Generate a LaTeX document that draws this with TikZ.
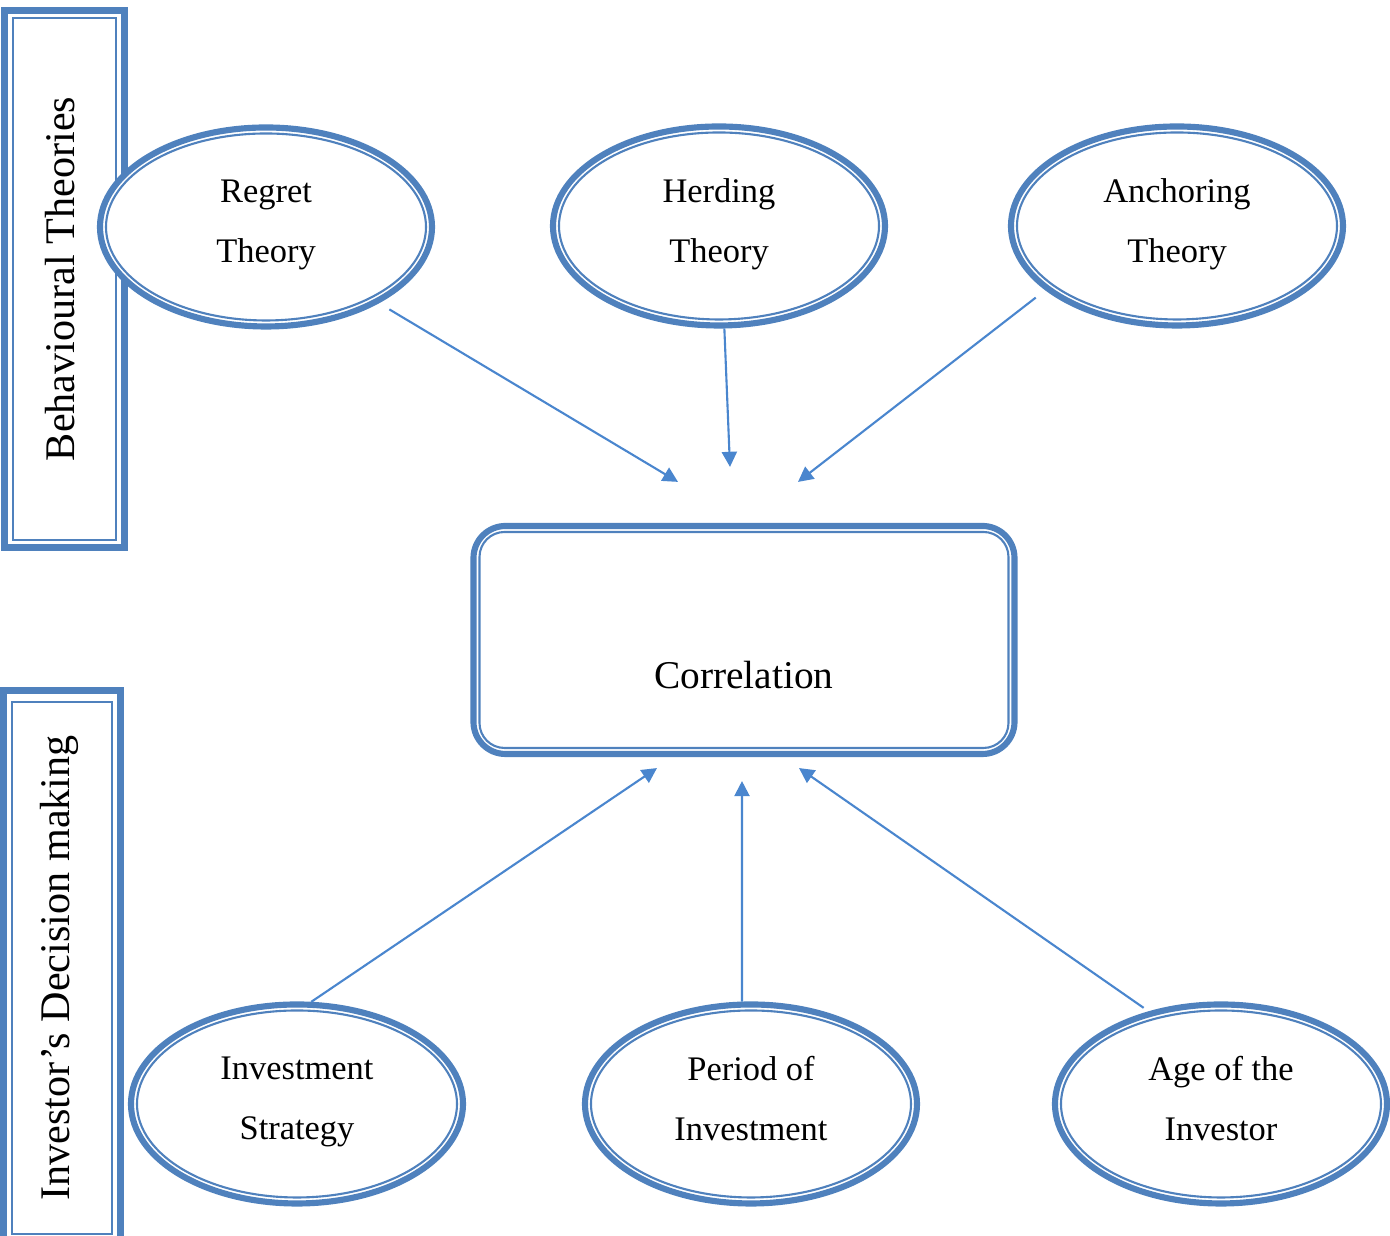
\documentclass[tikz,border=0pt]{standalone}
\usepackage{fontspec}
\setmainfont{Liberation Serif}
\usetikzlibrary{arrows.meta, positioning, shapes.geometric}
\definecolor{frameblue}{RGB}{79,129,189}
\definecolor{arrowblue}{RGB}{74,134,206}

\begin{document}
\begin{tikzpicture}[>={Triangle[length=4.3pt, width=4.3pt]},
    theory/.style={ellipse, draw=frameblue, line width=1.75pt, fill=white, minimum width=3.32cm, minimum height=1.99cm, inner sep=0pt, align=center, font=\fontsize{9.8}{17}\selectfont,
      execute at begin node=\rule{0pt}{10pt}, execute at end node=\rule[-3.3pt]{0pt}{0pt}},
    sidebox/.style={draw=frameblue, line width=2pt, fill=white, inner sep=0pt, rotate=90, font=\fontsize{12}{14}\selectfont},
    thinline/.style={draw=frameblue, line width=0.6pt},
    link/.style={->, draw=arrowblue, fill=arrowblue, line width=0.6pt}]
  \useasboundingbox (0,0) rectangle (13.90,12.36);

  % side frames
  \node[sidebox, minimum width=5.37cm, minimum height=1.20cm] (theories) at (0.645, 9.57) {\raisebox{-0.10cm}[0pt][0pt]{Behavioural Theories}};
  \draw[thinline] ([shift={(-0.515,-2.61)}]theories.center) rectangle ([shift={(0.515,2.61)}]theories.center);
  \node[sidebox, minimum width=5.555cm, minimum height=1.17cm] (decision) at (0.62, 2.68) {\raisebox{-0.07cm}[0pt][0pt]{Investor’s Decision making}};
  \draw[thinline] ([shift={(-0.50,-2.66)}]decision.center) rectangle ([shift={(0.50,2.66)}]decision.center);

  % theories and factors
  \node[theory] (regret) at (2.66, 10.09) {Regret\\Theory};
  \node[theory] (herding) at (7.19, 10.10) {Herding\\Theory};
  \node[theory] (anchoring) at (11.77, 10.10) {Anchoring\\Theory};
  \node[theory] (strategy) at (2.97, 1.32) {Investment\\Strategy};
  \node[theory] (period) at (7.51, 1.32) {Period of\\Investment};
  \node[theory] (age) at (12.21, 1.32) {Age of the\\Investor};
  \foreach \n in {regret, herding, anchoring, strategy, period, age}
    \draw[thinline] (\n.center) ellipse [x radius=1.60cm, y radius=0.935cm];

  % centre box
  \node[draw=frameblue, line width=1.75pt, rounded corners=0.32cm, minimum width=5.41cm, minimum height=2.28cm, font=\fontsize{11.2}{13}\selectfont] (corr) at (7.44, 5.96) {\raisebox{-0.49cm}[0pt][0pt]{Correlation}};
  \draw[thinline, rounded corners=0.25cm] ([shift={(-2.645,-1.08)}]corr.center) rectangle ([shift={(2.645,1.08)}]corr.center);

  \coordinate (toR) at ([shift={(-0.66,0.41)}]corr.north);
  \coordinate (toH) at ([shift={(-0.14,0.56)}]corr.north);
  \coordinate (toA) at ([shift={(0.54,0.41)}]corr.north);
  \coordinate (toS) at ([shift={(-0.87,-0.11)}]corr.south);
  \coordinate (toP) at ([shift={(-0.02,-0.24)}]corr.south);
  \coordinate (toG) at ([shift={(0.55,-0.11)}]corr.south);

  % arrows
  \draw[link, shorten <=0.12cm] (regret.-34) -- (toR);
  \draw[link] (herding.-87) -- (toH);
  \draw[link, shorten <=0.12cm] (anchoring.-154) -- (toA);
  \draw[link] (strategy.82) -- (toS);
  \draw[link] (period.95) -- (toP);
  \draw[link, shorten <=0.06cm] (age.128) -- (toG);
\end{tikzpicture}
\end{document}
